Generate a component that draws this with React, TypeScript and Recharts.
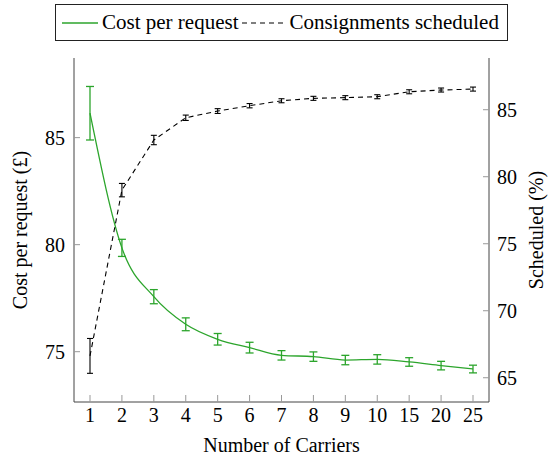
import React from 'react';
import { LineChart, Line, XAxis, YAxis, Legend, ErrorBar } from 'recharts';

const carriers = ['1', '2', '3', '4', '5', '6', '7', '8', '9', '10', '15', '20', '25'];
const costPerRequest = [86.14, 79.85, 77.57, 76.28, 75.58, 75.19, 74.83, 74.77, 74.61, 74.64, 74.52, 74.35, 74.19];
const costError = [1.25, 0.4, 0.33, 0.3, 0.27, 0.25, 0.22, 0.22, 0.22, 0.22, 0.2, 0.2, 0.18];
const scheduled = [66.63, 79.0, 82.74, 84.4, 84.9, 85.3, 85.67, 85.85, 85.9, 85.97, 86.34, 86.47, 86.54];
const scheduledError = [1.3, 0.5, 0.35, 0.2, 0.18, 0.16, 0.15, 0.15, 0.15, 0.15, 0.15, 0.15, 0.15];
const costTicks = [75, 80, 85];
const scheduledTicks = [65, 70, 75, 80, 85];

const data = carriers.map((c, i) => ({
  carriers: c,
  cost: costPerRequest[i],
  costErr: costError[i],
  sched: scheduled[i],
  schedErr: scheduledError[i],
}));

const GREEN = '#2ca52c';
const FONT = 'Liberation Serif, Tinos, Times New Roman, Times, DejaVu Serif, serif';
const tickStyle = { fontSize: 20, fill: '#000', fontFamily: FONT };

function LegendBox() {
  return (
    <div
      style={{
        boxSizing: 'border-box',
        width: 453,
        height: 37,
        border: '1px solid #222',
        display: 'flex',
        alignItems: 'center',
        fontFamily: FONT,
        fontSize: 21,
        color: '#000',
        paddingLeft: 6,
        whiteSpace: 'nowrap',
      }}
    >
      <svg width={36} height={10} style={{ marginRight: 4 }}>
        <line x1={0} y1={5} x2={36} y2={5} stroke={GREEN} strokeWidth={1.3} />
      </svg>
      <span>Cost per request</span>
      <svg width={44} height={10} style={{ marginLeft: 3, marginRight: 4 }}>
        <line x1={1} y1={5} x2={44} y2={5} stroke="#000" strokeWidth={1.1} strokeDasharray="5 4" />
      </svg>
      <span>Consignments scheduled</span>
    </div>
  );
}

function rotatedLabel(text: string, dx: number) {
  return (props: any) => {
    const vb = props.viewBox;
    const cx = vb.x + dx;
    const cy = vb.y + vb.height / 2;
    return (
      <text
        x={cx}
        y={cy}
        transform={`rotate(-90, ${cx}, ${cy})`}
        textAnchor="middle"
        dominantBaseline="central"
        fontSize={20}
        fontFamily={FONT}
        fill="#000"
      >
        {text}
      </text>
    );
  };
}

export default function App() {
  return (
    <div style={{ position: 'absolute', left: 0, top: 0, background: '#fff', fontFamily: FONT }}>
      <LineChart
        width={548}
        height={459}
        data={data}
        margin={{ top: 58, right: 0, bottom: 0, left: 0 }}
        style={{ fontFamily: FONT }}
      >
        <XAxis
          dataKey="carriers"
          padding={{ left: 16, right: 16 }}
          height={57}
          stroke="#444"
          tick={tickStyle}
          tickSize={-7}
          tickMargin={13}
          tickLine={{ stroke: '#999' }}
          interval={0}
          label={(props: any) => {
            const vb = props.viewBox;
            return (
              <text
                x={vb.x + vb.width / 2}
                y={vb.y + 43}
                textAnchor="middle"
                dominantBaseline="central"
                fontSize={20}
                fontFamily={FONT}
                fill="#000"
              >
                Number of Carriers
              </text>
            );
          }}
        />
        <YAxis
          yAxisId="left"
          orientation="left"
          width={74}
          domain={[72.65, 88.72]}
          allowDataOverflow
          ticks={costTicks}
          stroke="#444"
          tick={tickStyle}
          tickSize={-6}
          tickMargin={15}
          tickLine={{ stroke: '#999' }}
          label={rotatedLabel('Cost per request (£)', 20)}
        />
        <YAxis
          yAxisId="right"
          orientation="right"
          width={59}
          domain={[63.19, 88.86]}
          allowDataOverflow
          ticks={scheduledTicks}
          stroke="#444"
          tick={tickStyle}
          tickSize={-6}
          tickMargin={14}
          tickLine={{ stroke: '#999' }}
          label={rotatedLabel('Scheduled (%)', 47)}
        />
        <Legend
          verticalAlign="middle"
          align="center"
          content={() => <LegendBox />}
          wrapperStyle={{ top: 4, left: 55, width: 453, height: 37 }}
        />
        <Line
          yAxisId="left"
          type="monotone"
          dataKey="cost"
          stroke={GREEN}
          strokeWidth={1.3}
          dot={false}
          isAnimationActive={false}
        >
          <ErrorBar dataKey="costErr" width={4} stroke={GREEN} strokeWidth={1.3} />
        </Line>
        <Line
          yAxisId="right"
          type="linear"
          dataKey="sched"
          stroke="#000"
          strokeWidth={1.1}
          strokeDasharray="5 4"
          dot={false}
          isAnimationActive={false}
        >
          <ErrorBar dataKey="schedErr" width={3} stroke="#000" strokeWidth={1.1} />
        </Line>
      </LineChart>
    </div>
  );
}
